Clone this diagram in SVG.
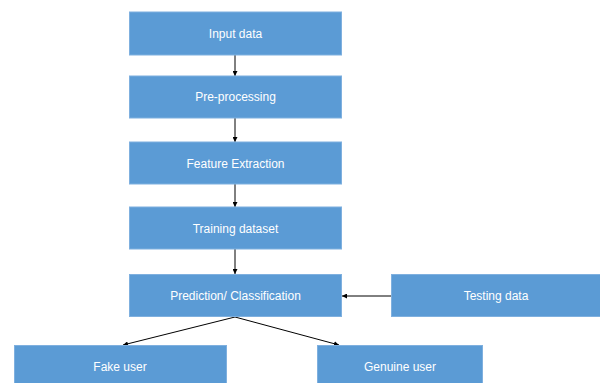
<svg xmlns="http://www.w3.org/2000/svg" width="600" height="383" viewBox="0 0 600 383">
<style>
.box{fill:#5B9BD5;stroke:#7FB0DF;stroke-width:1}
.lbl{fill:#fff;font-family:"Liberation Sans",Arial,sans-serif;font-size:12px;text-anchor:middle;dominant-baseline:central}
.con{stroke:#000;stroke-width:1;fill:none;marker-end:url(#ah)}
</style>
<defs>
<marker id="ah" viewBox="0 0 10 10" refX="10" refY="5" markerWidth="5" markerHeight="5" orient="auto" markerUnits="userSpaceOnUse">
<path d="M0,0 L10,5 L0,10 z" fill="#000"/>
</marker>
</defs>
<rect width="600" height="383" fill="#fff"/>
<g id="connectors">
<line class="con" x1="235" y1="55" x2="235" y2="76"/>
<line class="con" x1="235" y1="118" x2="235" y2="142"/>
<line class="con" x1="235" y1="184" x2="235" y2="207"/>
<line class="con" x1="235" y1="249" x2="235" y2="274"/>
<line class="con" x1="391" y1="296" x2="342" y2="296"/>
<line class="con" x1="235" y1="317" x2="123" y2="345"/>
<line class="con" x1="235" y1="317" x2="339" y2="345"/>
</g>
<g id="input"><rect class="box" x="129.5" y="12" width="212" height="43"/><text class="lbl" x="235.5" y="34">Input data</text></g>
<g id="preprocessing"><rect class="box" x="129.5" y="76" width="212" height="42"/><text class="lbl" x="235.5" y="97">Pre-processing</text></g>
<g id="feature"><rect class="box" x="129.5" y="142" width="212" height="42"/><text class="lbl" x="235.5" y="163.5">Feature Extraction</text></g>
<g id="training"><rect class="box" x="129.5" y="207" width="212" height="42"/><text class="lbl" x="235.5" y="228.5">Training dataset</text></g>
<g id="prediction"><rect class="box" x="129.5" y="274.5" width="212" height="42"/><text class="lbl" x="235.5" y="296">Prediction/ Classification</text></g>
<g id="testing"><rect class="box" x="391.5" y="274.5" width="212" height="42"/><text class="lbl" x="496" y="296">Testing data</text></g>
<g id="fake"><rect class="box" x="14.5" y="345.5" width="212" height="42"/><text class="lbl" x="120" y="367">Fake user</text></g>
<g id="genuine"><rect class="box" x="317.5" y="345.5" width="165" height="42"/><text class="lbl" x="400" y="367">Genuine user</text></g>
</svg>
